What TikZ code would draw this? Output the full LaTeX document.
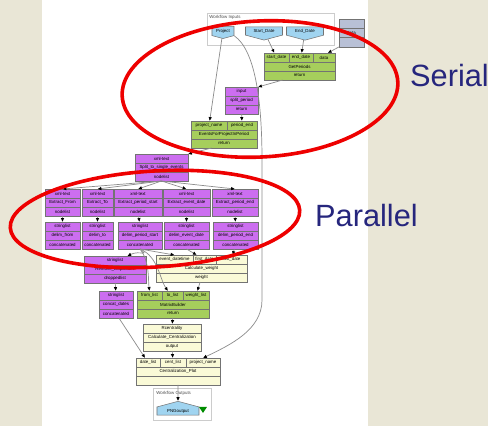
\documentclass[tikz,border=0pt]{standalone}
\usepackage{fontspec}
\setmainfont{Liberation Sans}
\usetikzlibrary{arrows.meta,positioning,shapes}

\definecolor{wallbg}{RGB}{233,230,214}
\definecolor{procpurple}{RGB}{204,110,240}
\definecolor{procgreen}{RGB}{166,206,92}
\definecolor{procyellow}{RGB}{250,250,215}
\definecolor{portblue}{RGB}{160,212,240}
\definecolor{constgrey}{RGB}{184,192,214}
\definecolor{markred}{RGB}{238,0,0}
\definecolor{labelblue}{RGB}{38,38,125}

% one pixel of the layout grid
\newlength\pxu
\setlength\pxu{0.02cm}

\tikzset{
  row/.style={draw=black!55,line width=.3pt,inner sep=0pt,outer sep=0pt,
    minimum height=9\pxu,font=\fontsize{2.5}{3}\selectfont},
  purp/.style={row,fill=procpurple},
  grn/.style={row,fill=procgreen},
  yel/.style={row,fill=procyellow},
  cst/.style={row,fill=constgrey,minimum height=9.3\pxu},
  wfport/.style={draw=black!55,line width=.3pt,fill=portblue,shape=signal,
    signal pointer angle=150,inner sep=0pt,minimum height=11\pxu,
    font=\fontsize{2.5}{3}\selectfont},
  panel/.style={draw=black!20,line width=.3pt},
  panellabel/.style={inner sep=0pt,font=\fontsize{2.5}{3}\selectfont,text=black!70},
  link/.style={draw=black!45,line width=.4pt,-{Latex[length=2.2pt,width=2pt,color=black]}},
  ring/.style={draw=markred,line width=3.6\pxu},
  bigword/.style={text=labelblue,font=\fontsize{17.5}{20}\selectfont},
}

% three stacked rows: #1 name, #2 style, #3 top left corner, #4 width, #5-#7 texts
\newcommand\proc[7]{%
  \node[#2,minimum width=#4\pxu,anchor=north west] (#1-t) at #3 {#5};
  \node[#2,minimum width=#4\pxu,anchor=north] (#1-m) at (#1-t.south) {#6};
  \node[#2,minimum width=#4\pxu,anchor=north] (#1-b) at (#1-m.south) {#7};
}

\begin{document}
\begin{tikzpicture}[x=0.02cm,y=-0.02cm]
\useasboundingbox (0,0) rectangle (488,426);
\fill[wallbg] (0,0) rectangle (488,426);
\fill[white] (42,0) rectangle (368,426);

% workflow inputs
\draw[panel] (207,13) rectangle (334,45);
\node[panellabel,anchor=north west] (inlbl) at (209,15) {Workflow Inputs};
\node[wfport,signal to=south,minimum width=22\pxu] (pj) at (223,31) {Project};
\node[wfport,signal to=south,minimum width=37\pxu] (sd) at (264,31) {Start\_Date};
\node[wfport,signal to=south,minimum width=37\pxu] (ed) at (305,31) {End\_Date};
\proc{dt}{cst}{(339,19)}{25}{}{data}{}

% serial part
\proc{gp}{grn}{(264,53)}{71}{}{GetPeriods}{return}
\node[grn,minimum width=25\pxu,anchor=north west] (gp-sd) at (gp-t.north west) {start\_date};
\node[grn,minimum width=24\pxu,right=0pt of gp-sd] (gp-ed) {end\_date};
\node[grn,minimum width=22\pxu,right=0pt of gp-ed] (gp-dt) {data};

\proc{sp}{purp}{(225,87)}{33}{input}{split\_period}{return}

\proc{ev}{grn}{(191,121)}{66}{}{EventsForProjectInPeriod}{return}
\node[grn,minimum width=36\pxu,anchor=north west] (ev-pn) at (ev-t.north west) {project\_name};
\node[grn,minimum width=30\pxu,right=0pt of ev-pn] (ev-pe) {period\_end};

% parallel part
\proc{ss}{purp}{(135,154)}{53}{xml-text}{Split\_to\_single\_events}{nodelist}

\proc{x1}{purp}{(45,189)}{35}{xml-text}{Extract\_From}{nodelist}
\proc{x2}{purp}{(82,189)}{31}{xml-text}{Extract\_To}{nodelist}
\proc{x3}{purp}{(114,189)}{48}{xml-text}{Extract\_period\_start}{nodelist}
\proc{x4}{purp}{(163,189)}{47}{xml-text}{Extract\_event\_date}{nodelist}
\proc{x5}{purp}{(212,189)}{46}{xml-text}{Extract\_period\_end}{nodelist}

\proc{s1}{purp}{(45,222)}{35}{stringlist}{delim\_from}{concatenated}
\proc{s2}{purp}{(82,222)}{31}{stringlist}{delim\_to}{concatenated}
\proc{s3}{purp}{(118,222)}{44}{stringlist}{delim\_period\_start}{concatenated}
\proc{s4}{purp}{(164,222)}{45}{stringlist}{delim\_event\_date}{concatenated}
\proc{s5}{purp}{(213,222)}{45}{stringlist}{delim\_period\_end}{concatenated}

% weights and matrix
\proc{rd}{purp}{(84,256)}{62}{stringlist}{Remove\_Duplicates}{droppedlist}
\proc{cw}{yel}{(156,255)}{91}{}{Calculate\_weight}{weight}
\node[yel,minimum width=37\pxu,anchor=north west] (cw-ev) at (cw-t.north west) {event\_datetime};
\node[yel,minimum width=23\pxu,right=0pt of cw-ev] (cw-fd) {first\_date};
\node[yel,minimum width=31\pxu,right=0pt of cw-fd] (cw-ld) {last\_date};

\proc{cd}{purp}{(99,291)}{34}{stringlist}{concat\_dates}{concatenated}
\proc{mb}{grn}{(137,291)}{72}{}{MatrixBuilder}{return}
\node[grn,minimum width=25\pxu,anchor=north west] (mb-fl) at (mb-t.north west) {from\_list};
\node[grn,minimum width=21\pxu,right=0pt of mb-fl] (mb-tl) {to\_list};
\node[grn,minimum width=26\pxu,right=0pt of mb-tl] (mb-wl) {weight\_list};

\proc{rc}{yel}{(143,324)}{58}{Rcentrality}{Calculate\_Centralization}{output}
\proc{cp}{yel}{(136,358)}{84}{}{Centralization\_Plot}{}
\node[yel,minimum width=24\pxu,anchor=north west] (cp-dl) at (cp-t.north west) {date\_list};
\node[yel,minimum width=26\pxu,right=0pt of cp-dl] (cp-cl) {cent\_list};
\node[yel,minimum width=34\pxu,right=0pt of cp-cl] (cp-pn) {project\_name};

% workflow outputs
\draw[panel] (153,388) rectangle (211,420);
\node[panellabel,anchor=north west] (outlbl) at (156,391) {Workflow Outputs};
\node[wfport,signal to=north,minimum width=42\pxu] (png) at (178,411) {PNGoutput};
\fill[green!55!black] (199,407) -- (207,407) -- (203,413) -- cycle;

% data links
\draw[link] (sd) -- (gp-sd);
\draw[link] (ed) -- (gp-ed);
\draw[link] (dt-b.south west) -- (gp-dt.50);
\draw[link] (gp-b.-165) -- (sp-t.north east);
\draw[link] (pj) -- (ev-pn);
\draw[link] (sp-b) -- (ev-pe);
\draw[link] (ev-b.-160) -- (ss-t.north east);
\foreach \i in {1,...,5} {
  \draw[link] (ss-b.south) -- (x\i-t.north);
  \draw[link] (x\i-b) -- (s\i-t);
}
\draw[link] (s3-b.south) .. controls +(10,8) and +(12,-6) .. (rd-t.20);
\draw[link] (s3-b.south) .. controls (150,262) and (148,280) .. (mb-fl.north);
\draw[link] (s3-b.south) .. controls (158,256) and (160,280) .. (mb-tl.135);
\draw[link] (s3-b.south) -- (cw-ev.north);
\draw[link] (s4-b.south) -- (cw-fd.150);
\draw[link] (s5-b) -- (cw-ld);
\draw[link] (cw-b) -- (mb-wl);
\draw[link] (rd-b) -- (cd-t);
\draw[link] (mb-b) -- (rc-t);
\draw[link] (rc-b) -- (cp-cl);
\draw[link] (cd-b) -- (cp-dl);
\draw[link] (pj.south east) .. controls (255,50) and (262,100) .. (262,160)
  -- (262,300) .. controls (262,330) and (230,345) .. (cp-pn.north);
\draw[link] (cp-b) -- (png);

% highlighted regions
\draw[ring,rotate around={3:(260,89)}] (260,89) ellipse [x radius=138\pxu,y radius=68\pxu];
\draw[ring,rotate around={3.5:(155,219)}] (155,219) ellipse [x radius=145\pxu,y radius=48\pxu];
\node[bigword,anchor=base west] (serial) at (404,87) {Serial};
\node[bigword,anchor=base west] (parallel) at (309,227) {Parallel};
\end{tikzpicture}
\end{document}
